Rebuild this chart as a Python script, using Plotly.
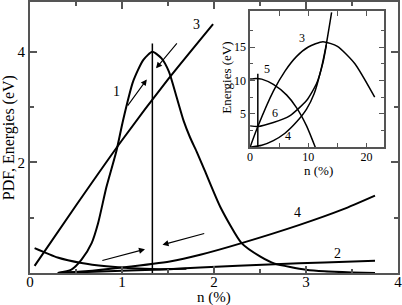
import plotly.graph_objects as go

# ---------------- main panel data ----------------
c1_n = [0.30, 0.45, 0.56, 0.67, 0.74, 0.83, 0.94, 1.01, 1.12, 1.23, 1.33, 1.43, 1.51, 1.59,
        1.67, 1.74, 1.81, 1.90, 2.07, 2.30, 2.50, 2.66, 3.00, 3.20, 3.50, 3.75]
c1_E = [0.00, 0.06, 0.24, 0.54, 0.90, 1.55, 2.21, 2.75, 3.46, 3.85, 4.00, 3.88, 3.64, 3.20,
        2.75, 2.45, 2.20, 1.85, 1.19, 0.54, 0.30, 0.17, 0.06, 0.03, 0.01, 0.00]

c3_n = [0.05, 0.50, 1.00, 1.50, 1.99]
c3_E = [0.13, 1.22, 2.40, 3.50, 4.50]

c4_n = [0.31, 0.60, 1.00, 1.52, 1.85, 2.30, 2.93, 3.40, 3.75]
c4_E = [0.00, 0.03, 0.10, 0.21, 0.33, 0.54, 0.87, 1.15, 1.40]

c2_n = [0.31, 1.00, 1.52, 1.85, 2.66, 3.20, 3.75]
c2_E = [0.00, 0.04, 0.07, 0.10, 0.16, 0.19, 0.22]

cd_n = [0.05, 0.30, 0.56, 0.83, 1.10, 1.40, 1.70]
cd_E = [0.45, 0.28, 0.18, 0.12, 0.085, 0.07, 0.075]

vline_n = [1.33, 1.33]
vline_E = [0.0, 4.15]

# ---------------- inset data ----------------
i3_n = [0, 1.33, 4, 6, 8, 10, 12.5, 15, 18, 21.4]
i3_E = [0, 3.1, 8.4, 11.4, 13.6, 15.0, 15.8, 15.1, 12.5, 7.5]

i4_n = [0, 2, 4, 6, 8, 9.7, 11, 12, 13, 14]
i4_E = [0, 0.3, 1.0, 2.1, 3.8, 5.7, 8.0, 11.0, 15.0, 20.2]

i6_n = [0, 1.33, 4, 6.8, 9.7, 11.4, 12.5, 13.1]
i6_E = [3.2, 3.1, 3.7, 4.7, 7.0, 9.5, 12.6, 15.3]

i5_n = [0, 1, 2, 4, 6.3, 8, 9.7, 11.2]
i5_E = [10.2, 10.3, 10.2, 9.4, 7.8, 5.9, 3.2, 0.0]

ivline_n = [1.33, 1.33]
ivline_E = [-0.4, 11.0]

main_x_ticks = [0, 1, 2, 3, 4]
main_y_ticks = [0, 2, 4]
main_y_text = ["", "2", "4"]
inset_x_ticks = [0, 10, 20]
inset_y_ticks = [5, 10, 15]

FONT = "Liberation Serif"
LC = "black"

fig = go.Figure()

def add(n, E, xa="x", ya="y", w=2.0, spline=True):
    fig.add_trace(go.Scatter(x=n, y=E, mode="lines", xaxis=xa, yaxis=ya,
                             line=dict(color=LC, width=w,
                                       shape="spline" if spline else "linear",
                                       smoothing=0.6),
                             showlegend=False, hoverinfo="skip", cliponaxis=True))

add(c1_n, c1_E)
add(c3_n, c3_E)
add(c4_n, c4_E)
add(c2_n, c2_E)
add(cd_n, cd_E)
add(vline_n, vline_E, spline=False, w=1.5)

add(i3_n, i3_E, "x2", "y2", 1.5)
add(i4_n, i4_E, "x2", "y2", 1.5)
add(i6_n, i6_E, "x2", "y2", 1.5)
add(i5_n, i5_E, "x2", "y2", 1.5)
add(ivline_n, ivline_E, "x2", "y2", 1.5, spline=False)

axis_common = dict(showline=True, linecolor="#555", mirror="allticks", ticks="inside",
                   tickcolor="#555", showgrid=False, zeroline=False, automargin=False,
                   ticklabeloverflow="allow",
                   tickfont=dict(family=FONT, size=15, color="black"))
inset_common = {**axis_common, "tickfont": dict(family=FONT, size=12, color="black")}

fig.update_layout(
    width=402, height=305,
    margin=dict(l=30, r=4, t=2, b=32, autoexpand=False),
    paper_bgcolor="white", plot_bgcolor="white",
    font=dict(family=FONT, color="black"),
    xaxis=dict(domain=[0, 1], range=[0, 4], tickmode="array", tickvals=main_x_ticks,
               ticklen=7, tickwidth=1.5, linewidth=2, ticklabelstandoff=-6,
               minor=dict(tickvals=[0.5, 1.5, 2.5, 3.5], ticklen=4, tickcolor="#555", ticks="inside"),
               **axis_common),
    yaxis=dict(domain=[0, 1], range=[0, 4.9], tickmode="array", tickvals=main_y_ticks,
               ticktext=main_y_text, ticklen=7, tickwidth=1.5, linewidth=2,
               minor=dict(tickvals=[1, 3], ticklen=4, tickcolor="#555", ticks="inside"),
               **axis_common),
    xaxis2=dict(domain=[0.598, 0.962], anchor="y2", range=[0, 23], tickmode="array",
                tickvals=inset_x_ticks, ticklen=5, linewidth=1.5, ticklabelstandoff=-2,
                minor=dict(tickvals=[5, 15], ticklen=5, tickcolor="#555", ticks="inside"),
                **inset_common),
    yaxis2=dict(domain=[0.464, 0.967], anchor="x2", range=[0, 20.4], tickmode="array",
                tickvals=inset_y_ticks, ticklen=5, linewidth=1.5,
                minor=dict(tickvals=[2.5, 7.5, 12.5, 17.5], ticklen=3, tickcolor="#555", ticks="inside"),
                **inset_common),
)

# axis titles
fig.add_annotation(text="n (%)", xref="paper", yref="paper", x=0.5, y=-0.09,
                   showarrow=False, font=dict(family=FONT, size=15), xanchor="center", yanchor="middle")
fig.add_annotation(text="PDF, Energies (eV)", xref="paper", yref="paper", x=-0.058, y=0.5,
                   textangle=-90, showarrow=False, font=dict(family=FONT, size=16),
                   xanchor="center", yanchor="middle")
fig.add_annotation(text="Energies (eV)", xref="paper", yref="paper", x=0.535, y=0.72,
                   textangle=-90, showarrow=False, font=dict(family=FONT, size=13),
                   xanchor="center", yanchor="middle")
fig.add_annotation(text="n (%)", xref="paper", yref="paper", x=0.783, y=0.38,
                   showarrow=False, font=dict(family=FONT, size=13), xanchor="center", yanchor="middle")

# curve labels
main_labels = [("1", 0.94, 3.28), ("3", 1.81, 4.5), ("4", 2.91, 1.1), ("2", 3.34, 0.36)]
for t, xx, yy in main_labels:
    fig.add_annotation(text=t, x=xx, y=yy, xref="x", yref="y", showarrow=False,
                       font=dict(family=FONT, size=14))
inset_labels = [("3", 8.84, 16.4), ("5", 2.85, 11.7), ("6", 4.27, 5.2), ("4", 6.55, 1.75)]
for t, xx, yy in inset_labels:
    fig.add_annotation(text=t, x=xx, y=yy, xref="x2", yref="y2", showarrow=False,
                       font=dict(family=FONT, size=12))

# arrows: (tail n, tail E, head n, head E)
arrows = [(1.05, 3.0, 1.27, 3.5), (1.61, 4.18, 1.37, 3.7),
          (0.77, 0.22, 1.25, 0.43), (1.91, 0.72, 1.44, 0.51)]
for tx, ty, hx, hy in arrows:
    fig.add_annotation(x=hx, y=hy, ax=tx, ay=ty, xref="x", yref="y", axref="x", ayref="y",
                       text="", showarrow=True, arrowhead=2, arrowsize=1.1, arrowwidth=1.1,
                       arrowcolor="black")

fig.write_html("out.html", config={"displayModeBar": False},
               post_script="document.body.style.margin='0';document.body.style.padding='0';")
